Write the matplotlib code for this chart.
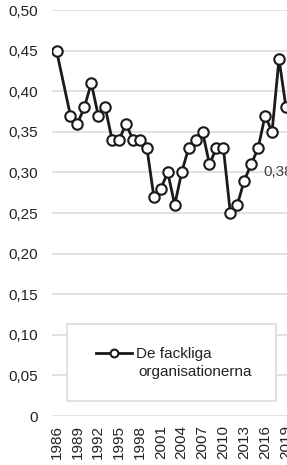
import numpy as np
import matplotlib
matplotlib.use("Agg")
import matplotlib.pyplot as plt
from matplotlib.patches import Rectangle

plt.rcParams['font.family'] = ['Liberation Sans', 'DejaVu Sans']

# data (1987 has no value)
years = [1986, 1988, 1989, 1990, 1991, 1992, 1993, 1994, 1995, 1996, 1997,
         1998, 1999, 2000, 2001, 2002, 2003, 2004, 2005, 2006, 2007, 2008,
         2009, 2010, 2011, 2012, 2013, 2014, 2015, 2016, 2017, 2018, 2019]
values = [0.45, 0.37, 0.36, 0.38, 0.41, 0.37, 0.38, 0.34, 0.34, 0.36, 0.34,
          0.34, 0.33, 0.27, 0.28, 0.30, 0.26, 0.30, 0.33, 0.34, 0.35, 0.31,
          0.33, 0.33, 0.25, 0.26, 0.29, 0.31, 0.33, 0.37, 0.35, 0.44, 0.38]
tick_years = list(range(1986, 2020, 3))
y_ticks = [0, 0.05, 0.10, 0.15, 0.20, 0.25, 0.30, 0.35, 0.40, 0.45, 0.50]
y_labels = ['0', '0,05', '0,10', '0,15', '0,20', '0,25', '0,30', '0,35',
            '0,40', '0,45', '0,50']
series_name = 'De fackliga'
series_name2 = 'organisationerna'
cut_label = '0,38'

W, H = 287, 465
fs = 11
fig = plt.figure(figsize=(W / 100, H / 100), dpi=100)
ax = fig.add_axes([52 / W, 49 / H, 1 - 52 / W, 406 / H])

line, = ax.plot(years, values, color='#1a1a1a', lw=2.0, marker='o',
                ms=7.5, mfc='white', mec='#1a1a1a', mew=1.5, zorder=3,
                clip_on=True)

ax.set_xlim(1985.35, 2019.15)
ax.set_ylim(0, 0.5)
ax.set_yticks(y_ticks)
ax.set_yticklabels(y_labels)
ax.set_xticks(tick_years)
ax.set_xticklabels([str(y) for y in tick_years], rotation=90)
ax.tick_params(axis='both', length=0, labelsize=fs, colors='#222222')
ax.tick_params(axis='y', pad=10)
ax.tick_params(axis='x', pad=6.5)
ax.grid(axis='y', color='#d9d9d9', lw=1.1)
ax.set_axisbelow(True)
for s in ax.spines.values():
    s.set_visible(False)

# legend box
fig.patches.append(Rectangle((67 / W, 1 - 401 / H), 209 / W, 77 / H,
                             transform=fig.transFigure, facecolor='white',
                             edgecolor='#d9d9d9', lw=1.1, zorder=4))
leg = fig.legend([line], [series_name], loc='center left',
                 bbox_to_anchor=(96 / W, 1 - 354 / H), frameon=False,
                 borderpad=0, borderaxespad=0, handlelength=2.35,
                 handletextpad=0.25, markerscale=0.75, fontsize=fs)
leg.set_zorder(5)
for t in leg.get_texts():
    t.set_color('#222222')
fig.text(138 / W, 1 - 372 / H, series_name2, fontsize=fs, color='#222222',
         ha='left', va='center', zorder=5)

# data label cut at the right edge
fig.text(263 / W, 1 - 172 / H, cut_label, fontsize=fs, color='#404040',
         ha='left', va='center')

fig.savefig('out.png', dpi=100)
